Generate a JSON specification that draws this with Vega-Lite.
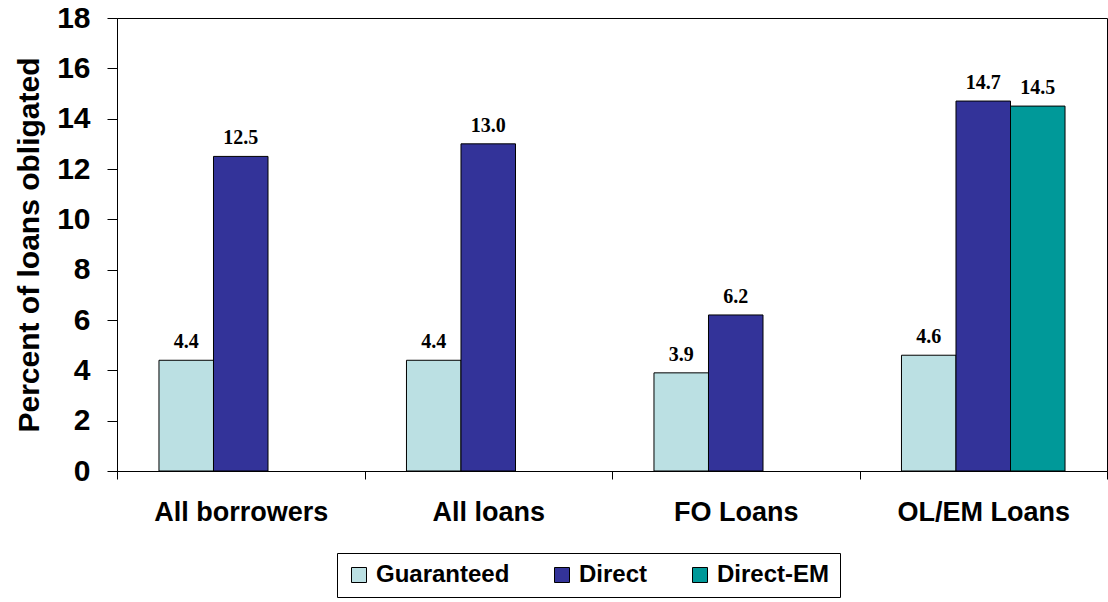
{
  "$schema": "https://vega.github.io/schema/vega-lite/v6.json",
  "width": 990,
  "height": 453,
  "autosize": {"type": "none"},
  "padding": {"left": 117, "top": 18, "right": 1, "bottom": 131},
  "background": "white",
  "view": {"stroke": "black", "strokeWidth": 1},
  "data": {
    "values": [
      {"category": "All borrowers", "series": "Guaranteed", "value": 4.4},
      {"category": "All borrowers", "series": "Direct", "value": 12.5},
      {"category": "All loans", "series": "Guaranteed", "value": 4.4},
      {"category": "All loans", "series": "Direct", "value": 13.0},
      {"category": "FO Loans", "series": "Guaranteed", "value": 3.9},
      {"category": "FO Loans", "series": "Direct", "value": 6.2},
      {"category": "OL/EM Loans", "series": "Guaranteed", "value": 4.6},
      {"category": "OL/EM Loans", "series": "Direct", "value": 14.7},
      {"category": "OL/EM Loans", "series": "Direct-EM", "value": 14.5}
    ]
  },
  "encoding": {
    "x": {
      "field": "category",
      "type": "nominal",
      "sort": ["All borrowers", "All loans", "FO Loans", "OL/EM Loans"],
      "scale": {"paddingInner": 0, "paddingOuter": 0},
      "axis": {
        "title": null,
        "labelAngle": 0,
        "tickBand": "extent",
        "labelFont": "Liberation Sans",
        "labelFontWeight": "bold",
        "labelFontSize": 27,
        "labelColor": "black",
        "labelPadding": 20,
        "tickSize": 8,
        "tickColor": "black",
        "domainColor": "black",
        "labelBaseline": "top"
      }
    },
    "xOffset": {
      "field": "series",
      "type": "nominal",
      "scale": {"domain": ["Guaranteed", "Direct", "Direct-EM"], "paddingInner": 0, "paddingOuter": 0.77}
    },
    "y": {
      "field": "value",
      "type": "quantitative",
      "scale": {"domain": [0, 18], "nice": false},
      "axis": {
        "title": "Percent of loans obligated",
        "titleFont": "Liberation Sans",
        "titleFontWeight": "bold",
        "titleFontSize": 30,
        "titleColor": "black",
        "titlePadding": 12,
        "values": [0, 2, 4, 6, 8, 10, 12, 14, 16, 18],
        "grid": false,
        "labelFont": "Liberation Sans",
        "labelFontWeight": "bold",
        "labelFontSize": 30,
        "labelColor": "black",
        "labelPadding": 17,
        "tickSize": 10,
        "tickColor": "black",
        "domainColor": "black"
      }
    }
  },
  "layer": [
    {
      "mark": {"type": "bar", "stroke": "black", "strokeWidth": 1},
      "encoding": {
        "color": {
          "field": "series",
          "type": "nominal",
          "scale": {"domain": ["Guaranteed", "Direct", "Direct-EM"], "range": ["#BBE0E3", "#333399", "#009999"]},
          "legend": {
            "title": null,
            "orient": "none",
            "direction": "horizontal",
            "legendX": 220,
            "legendY": 535,
            "symbolType": "square",
            "symbolSize": 225,
            "symbolStrokeColor": "black",
            "symbolStrokeWidth": 1,
            "symbolOpacity": 1,
            "labelFont": "Liberation Sans",
            "labelFontWeight": "bold",
            "labelFontSize": 24,
            "labelColor": "black",
            "labelOffset": 5,
            "columnPadding": 40,
            "padding": 10,
            "strokeColor": "black",
            "fillColor": "white"
          }
        }
      }
    },
    {
      "mark": {"type": "text", "font": "Liberation Serif", "fontWeight": "bold", "fontSize": 20, "dy": -12, "baseline": "alphabetic", "color": "black"},
      "encoding": {
        "text": {"field": "value", "type": "quantitative", "format": ".1f"}
      }
    }
  ]
}
